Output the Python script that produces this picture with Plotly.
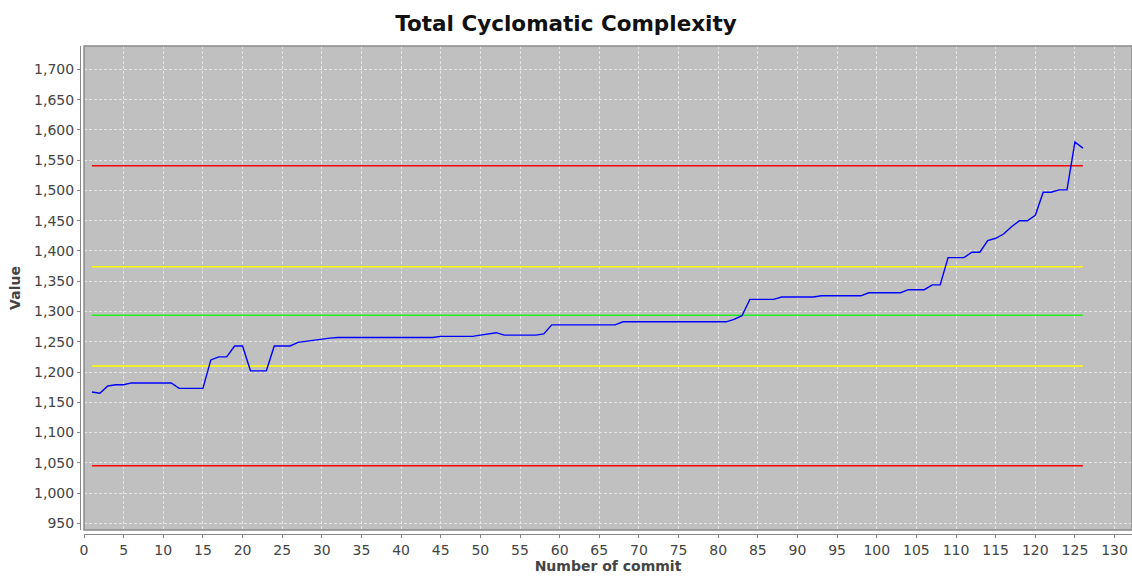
import plotly.graph_objects as go

commits = list(range(1, 127))
values = [
    1167, 1165, 1177, 1179, 1179, 1182, 1182, 1182, 1182, 1182,   # 1-10
    1182, 1173, 1173, 1173, 1173, 1220, 1225, 1225, 1243, 1243,   # 11-20
    1202, 1202, 1202, 1243, 1243, 1243, 1249, 1251, 1253, 1255,   # 21-30
    1256, 1257, 1257, 1257, 1257, 1257, 1257, 1257, 1257, 1257,   # 31-40
    1257, 1257, 1257, 1257, 1259, 1259, 1259, 1259, 1259, 1261,   # 41-50
    1263, 1265, 1261, 1261, 1261, 1261, 1261, 1263, 1278, 1278,   # 51-60
    1278, 1278, 1278, 1278, 1278, 1278, 1278, 1283, 1283, 1283,   # 61-70
    1283, 1283, 1283, 1283, 1283, 1283, 1283, 1283, 1283, 1283,   # 71-80
    1283, 1287, 1293, 1320, 1320, 1320, 1320, 1324, 1324, 1324,   # 81-90
    1324, 1324, 1326, 1326, 1326, 1326, 1326, 1326, 1331, 1331,   # 91-100
    1331, 1331, 1331, 1336, 1336, 1336, 1344, 1344, 1389, 1389,   # 101-110
    1389, 1398, 1398, 1417, 1421, 1428, 1440, 1450, 1450, 1459,   # 111-120
    1497, 1497, 1501, 1501, 1580, 1570,                           # 121-126
]

ref_levels = [1541, 1374, 1294, 1210, 1045]
ref_colors = ["#ff0000", "#ffff00", "#22ee22", "#ffff00", "#ff0000"]
line_span = [1, 126]

fig = go.Figure()
for lvl, col in zip(ref_levels, ref_colors):
    fig.add_trace(go.Scatter(x=line_span, y=[lvl, lvl], mode="lines",
                             line=dict(color=col, width=1.5),
                             hoverinfo="skip", showlegend=False))
fig.add_trace(go.Scatter(x=commits, y=values, mode="lines",
                         line=dict(color="#0000ff", width=1.4),
                         showlegend=False))

tickfont = dict(family="DejaVu Sans", size=14, color="#444444")
fig.update_layout(
    width=1132, height=577,
    margin=dict(l=80, r=0, t=46, b=43, autoexpand=False),
    paper_bgcolor="white",
    plot_bgcolor="#c0c0c0",
    title=dict(text="<b>Total Cyclomatic Complexity</b>", x=0.5, xanchor="center",
               y=1 - 23 / 577, yanchor="middle", automargin=False,
               font=dict(family="DejaVu Sans", size=21.5, color="#111111")),
    xaxis=dict(range=[0, 132.2], domain=[4 / 1052, 1], anchor="free", position=0,
               automargin=False,
               dtick=5, tick0=0, showline=True, linecolor="#888888", linewidth=1,
               ticks="outside", ticklen=3, tickcolor="#888888",
               tickfont=tickfont, zeroline=False,
               showgrid=True, gridcolor="#e4e4e4", griddash="3px,2px", gridwidth=1,
               title=dict(text="<b>Number of commit</b>", standoff=4,
                          font=dict(family="DejaVu Sans", size=14, color="#444444"))),
    yaxis=dict(range=[939, 1738.7], domain=[4 / 488, 1], anchor="free", position=0,
               automargin=False,
               dtick=50, tick0=0, tickformat=",d", showline=True, linecolor="#888888",
               linewidth=1, ticks="outside", ticklen=3, tickcolor="#888888",
               tickfont=tickfont, zeroline=False,
               showgrid=True, gridcolor="#e4e4e4", griddash="3px,2px", gridwidth=1,
               title=dict(text="<b>Value</b>", standoff=9,
                          font=dict(family="DejaVu Sans", size=14, color="#444444"))),
)
fig.add_shape(type="rect", xref="x domain", yref="y domain", x0=0, x1=1, y0=0, y1=1,
              line=dict(color="#8a8a8a", width=1.5), layer="above")
fig.write_html("out.html", config={"displayModeBar": False},
               post_script="document.body.style.margin='0';"
                           "document.body.style.overflow='hidden';")
